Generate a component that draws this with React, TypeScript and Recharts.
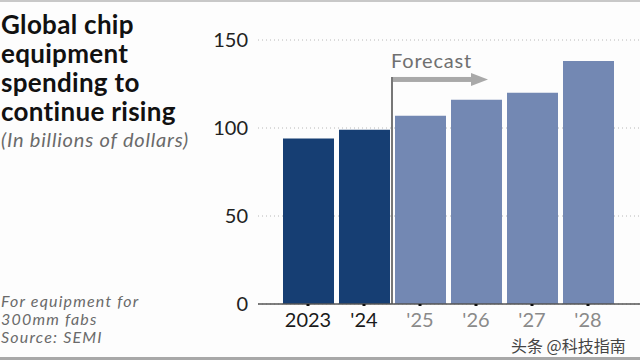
import { Bar, BarChart, CartesianGrid, Cell, ReferenceLine, XAxis, YAxis } from "recharts"

const years = ["2023", "'24", "'25", "'26", "'27", "'28"]
const spending = [94, 99, 107, 116, 120, 138]
const isForecast = [false, false, true, true, true, true]
const yTicks = [0, 50, 100, 150]

const titleLines = ["Global chip", "equipment", "spending to", "continue rising"]
const subtitle = "(In billions of dollars)"
const noteLines = ["For equipment for", "300mm fabs", "Source: SEMI"]
const forecastLabel = "Forecast"
const watermark = "头条 @科技指南"

const DARK = "#163e73"
const LIGHT = "#7388b3"
const FONT = "Lato, 'Open Sans', sans-serif"

const data = years.map((year, i) => ({ year, value: spending[i], forecast: isForecast[i] }))

function YearTick(props: any) {
  const { x, y, payload, index } = props
  const fc = isForecast[index]
  return (
    <text
      x={x}
      y={y}
      dy="0.71em"
      textAnchor="middle"
      fontSize={20}
      fontFamily={FONT}
      fill={fc ? "#8a8a8a" : "#1a1a1a"}
    >
      {payload.value}
    </text>
  )
}

function ForecastLabel(props: any) {
  const vb = props.viewBox || {}
  const x = vb.x ?? vb.x1 ?? 0
  const y = vb.y ?? Math.min(vb.y1 ?? 0, vb.y2 ?? 0)
  return (
    <g>
      <text x={x - 1} y={y - 9} fontSize={20} letterSpacing={0.8} fontFamily={FONT} fill="#707070">
        {forecastLabel}
      </text>
      <rect x={x + 1} y={y} width={78} height={5} fill="#a9a9a9" />
      <polygon points={`${x + 79},${y - 4} ${x + 96},${y + 2.5} ${x + 79},${y + 9}`} fill="#a9a9a9" />
    </g>
  )
}

export default function App() {
  return (
    <div
      style={{
        position: "absolute",
        left: 0,
        top: 0,
        width: 640,
        height: 360,
        background: "#fdfdfd",
        fontFamily: FONT,
        overflow: "hidden",
      }}
    >
      <div style={{ position: "absolute", left: 0, top: 0, width: 640, height: 2, background: "#c8c8c8" }} />
      <div style={{ position: "absolute", left: 0, bottom: 0, width: 640, height: 3, background: "#a8a8a8" }} />

      <div
        style={{
          position: "absolute",
          left: 1,
          top: 10,
          fontSize: 26,
          letterSpacing: 0.3,
          lineHeight: "29px",
          fontWeight: 700,
          color: "#111",
        }}
      >
        {titleLines.map((t) => (
          <div key={t}>{t}</div>
        ))}
      </div>
      <div
        style={{
          position: "absolute",
          left: 1,
          top: 127,
          fontSize: 20,
          letterSpacing: 0.8,
          fontStyle: "italic",
          color: "#6a6a6a",
        }}
      >
        {subtitle}
      </div>
      <div
        style={{
          position: "absolute",
          left: 1,
          top: 292,
          fontSize: 16,
          letterSpacing: 1.2,
          lineHeight: "18px",
          fontStyle: "italic",
          color: "#6a6a6a",
        }}
      >
        {noteLines.map((t) => (
          <div key={t}>{t}</div>
        ))}
      </div>

      <div style={{ position: "absolute", left: 0, top: 0 }}>
        <BarChart width={640} height={360} data={data} margin={{ top: 40, right: 0, bottom: 0, left: 0 }} barSize={51}>
          <CartesianGrid vertical={false} stroke="#b8b8b8" strokeDasharray="1 3" />
          <YAxis
            domain={[0, 150]}
            ticks={yTicks}
            width={258}
            axisLine={false}
            tickLine={false}
            tickSize={0}
            tickMargin={10}
            tick={{ fontSize: 20, fill: "#222", fontFamily: FONT }}
          />
          <XAxis
            dataKey="year"
            height={56}
            padding={{ left: 22, right: 24 }}
            axisLine={{ stroke: "#555", strokeWidth: 1.5 }}
            tickLine={{ stroke: "#111", strokeWidth: 3 }}
            tickSize={2}
            tickMargin={7}
            tick={<YearTick />}
            interval={0}
          />
          <Bar dataKey="value" isAnimationActive={false}>
            {data.map((d) => (
              <Cell key={d.year} fill={d.forecast ? LIGHT : DARK} />
            ))}
          </Bar>
          <ReferenceLine
            segment={[
              { x: "'25", y: 0 },
              { x: "'25", y: 129 },
            ]}
            position="start"
            stroke="#4a4a4a"
            strokeWidth={1.5}
            label={<ForecastLabel />}
          />
        </BarChart>
      </div>

      <div
        style={{
          position: "absolute",
          left: 511,
          top: 333,
          fontSize: 16,
          color: "#444",
          fontFamily: "'Noto Sans CJK SC', sans-serif",
        }}
      >
        {watermark}
      </div>
    </div>
  )
}
